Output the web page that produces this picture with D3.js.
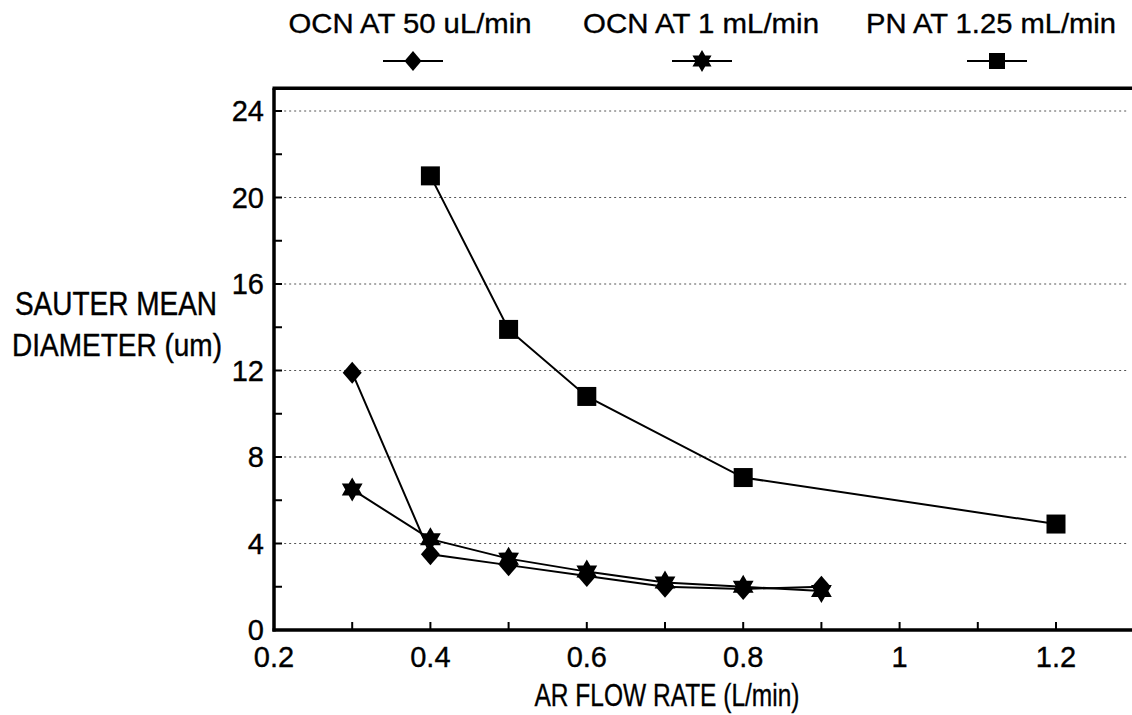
<!DOCTYPE html>
<html><head><meta charset="utf-8">
<script src="https://cdn.jsdelivr.net/npm/d3@7"></script>
<style>
html,body{margin:0;padding:0;background:#fff;}
text{font-family:"Liberation Sans",Arial,Helvetica,sans-serif;fill:#000;stroke:#000;stroke-width:0.35;}
</style></head>
<body>
<svg id="chart" width="1132" height="715"></svg>
<script>
// ---- data ----
const ocnX = [0.3, 0.4, 0.5, 0.6, 0.7, 0.8, 0.9];
const ocn50 = [11.9, 3.5, 3.0, 2.5, 2.0, 1.9, 2.0];
const ocn1 = [6.5, 4.2, 3.3, 2.7, 2.2, 2.0, 1.8];
const pnX = [0.4, 0.5, 0.6, 0.8, 1.2];
const pn125 = [21.0, 13.9, 10.8, 7.05, 4.9];
const seriesNames = ["OCN AT 50 uL/min", "OCN AT 1 mL/min", "PN AT 1.25 mL/min"];
const xTicks = [0.2, 0.4, 0.6, 0.8, 1, 1.2];
const xMinorTicks = [0.3, 0.4, 0.5, 0.6, 0.7, 0.8, 0.9, 1.0, 1.1, 1.2];
const yTicks = [0, 4, 8, 12, 16, 20, 24];
const yMinorTicks = [2, 6, 10, 14, 18, 22];

const svg = d3.select("#chart");
const x = d3.scaleLinear().domain([0.2, 1.2]).range([274, 1056]);
const y = d3.scaleLinear().domain([0, 24]).range([630, 111]);
const xMax = 1.3, yMax = 25.05;

// gridlines
svg.append("g").selectAll("line").data(yTicks.filter(d => d > 0)).join("line")
  .attr("x1", x(0.213)).attr("x2", x(1.29))
  .attr("y1", d => y(d)).attr("y2", d => y(d))
  .attr("stroke", "#555").attr("stroke-width", 1).attr("stroke-dasharray", "2,3");

// frame
const frame = svg.append("g").attr("stroke", "#000").attr("stroke-width", 3.5).attr("fill", "none");
frame.append("line").attr("x1", x(0.2)).attr("x2", x(0.2)).attr("y1", y(yMax)).attr("y2", y(0) + 1.5);
frame.append("line").attr("x1", x(0.2) - 1.5).attr("x2", x(xMax)).attr("y1", y(0)).attr("y2", y(0));
frame.append("line").attr("x1", x(0.2) - 1.5).attr("x2", x(xMax)).attr("y1", y(yMax)).attr("y2", y(yMax));

// ticks (inside)
svg.append("g").selectAll("line").data(xMinorTicks).join("line")
  .attr("x1", d => x(d)).attr("x2", d => x(d)).attr("y1", y(0)).attr("y2", y(0) - 8)
  .attr("stroke", "#000").attr("stroke-width", 2);
svg.append("g").selectAll("line").data(yTicks.concat(yMinorTicks).filter(d => d > 0)).join("line")
  .attr("x1", x(0.2)).attr("x2", x(0.2) + 8).attr("y1", d => y(d)).attr("y2", d => y(d))
  .attr("stroke", "#000").attr("stroke-width", 2);

// tick labels
svg.append("g").selectAll("text").data(yTicks).join("text")
  .attr("x", x(0.2) - 10).attr("y", d => y(d) + 10)
  .attr("text-anchor", "end").attr("font-size", 29).text(d => d);
svg.append("g").selectAll("text").data(xTicks).join("text")
  .attr("x", d => x(d)).attr("y", y(0) + 37)
  .attr("text-anchor", "middle").attr("font-size", 29).text(d => d);

// axis titles
svg.append("text").attr("x", 667).attr("y", 706).attr("text-anchor", "middle")
  .attr("font-size", 32).attr("textLength", 265).attr("lengthAdjust", "spacingAndGlyphs")
  .text("AR FLOW RATE (L/min)");
svg.append("text").attr("transform", "translate(116,315) scale(1,1.18)").attr("text-anchor", "middle")
  .attr("font-size", 28).text("SAUTER MEAN");
svg.append("text").attr("transform", "translate(117,356) scale(1,1.12)").attr("text-anchor", "middle")
  .attr("font-size", 28).text("DIAMETER (um)");

// symbols
function hexagram(r) {
  const p = d3.path();
  for (let k = 0; k < 12; k++) {
    const a = (-90 + k * 30) * Math.PI / 180;
    const rr = k % 2 === 0 ? r : r * 0.58;
    if (k === 0) p.moveTo(rr * Math.cos(a), rr * Math.sin(a));
    else p.lineTo(rr * Math.cos(a), rr * Math.sin(a));
  }
  p.closePath();
  return p.toString();
}
function diamond(w, h) {
  return `M0,${-h}L${w},0L0,${h}L${-w},0Z`;
}
function square(s) { return `M${-s},${-s}H${s}V${s}H${-s}Z`; }
const symDiamond = diamond(9.5, 11);
const symStar = hexagram(12);
const symSquare = square(9.5);

const line = d3.line().x(d => x(d[0])).y(d => y(d[1]));
const series = [
  {xs: ocnX, ys: ocn50, sym: symDiamond},
  {xs: ocnX, ys: ocn1, sym: symStar},
  {xs: pnX, ys: pn125, sym: symSquare}
];
series.forEach(s => {
  const pts = s.xs.map((v, i) => [v, s.ys[i]]);
  svg.append("path").attr("d", line(pts)).attr("fill", "none")
    .attr("stroke", "#000").attr("stroke-width", 2);
});
series.forEach(s => {
  const pts = s.xs.map((v, i) => [v, s.ys[i]]);
  svg.append("g").selectAll("path").data(pts).join("path")
    .attr("transform", d => `translate(${x(d[0])},${y(d[1])})`)
    .attr("d", s.sym).attr("fill", "#000");
});

// legend
const legendCx = [410, 701, 991];
const legendMx = [413, 702, 997];
const legendLen = [243, 236, 250];
const legendSyms = [diamond(8.5, 10), hexagram(11), square(8)];
seriesNames.forEach((name, i) => {
  svg.append("text").attr("x", legendCx[i]).attr("y", 33).attr("text-anchor", "middle")
    .attr("font-size", 28).attr("textLength", legendLen[i]).attr("lengthAdjust", "spacingAndGlyphs")
    .text(name);
  svg.append("line").attr("x1", legendMx[i] - 30).attr("x2", legendMx[i] + 30)
    .attr("y1", 61).attr("y2", 61).attr("stroke", "#000").attr("stroke-width", 2);
  svg.append("path").attr("transform", `translate(${legendMx[i]},61)`)
    .attr("d", legendSyms[i]).attr("fill", "#000");
});
</script>
</body></html>
